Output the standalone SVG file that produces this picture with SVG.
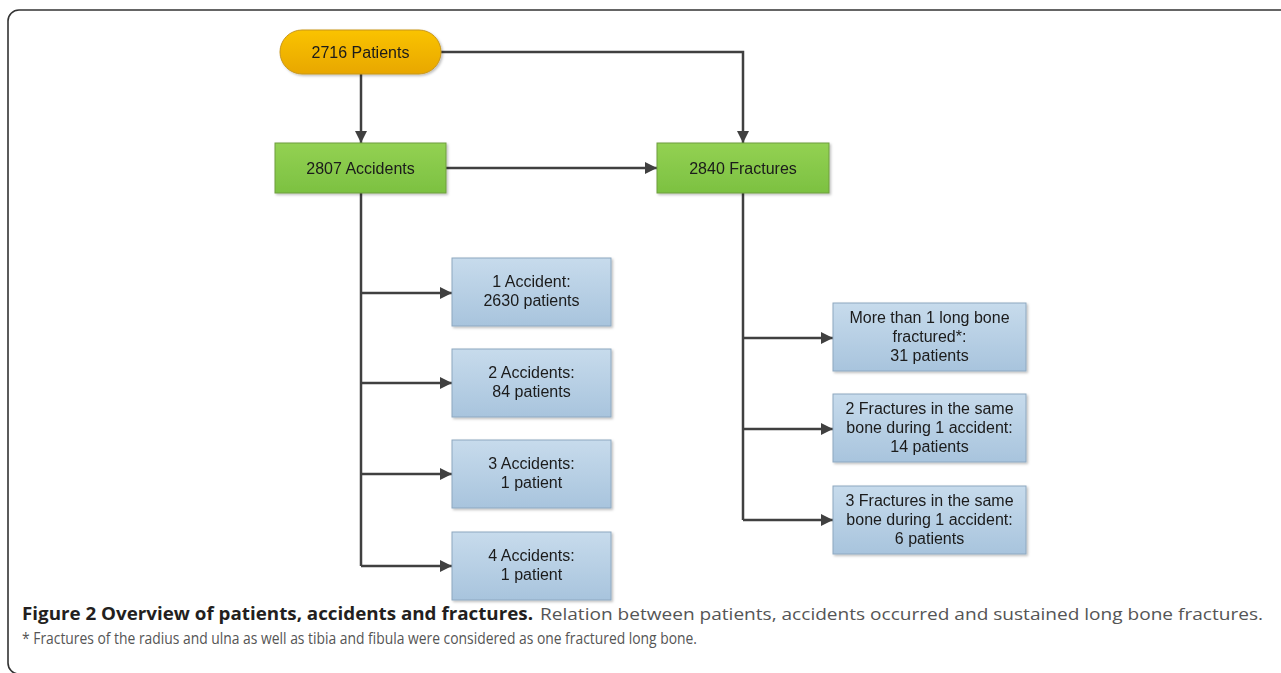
<svg xmlns="http://www.w3.org/2000/svg" width="1281" height="673" viewBox="0 0 1281 673">
<style>
.t{font-family:"Liberation Sans",Arial,sans-serif;font-size:16px;fill:#1a1a1a;text-anchor:middle}
.c{stroke:#404040;stroke-width:2.5;fill:none}
.blue{fill:url(#gb);stroke:#8ea8c0;stroke-width:1}
.green{fill:url(#gg);stroke:#6f9e3e;stroke-width:1}
.cap{font-family:"Open Sans","DejaVu Sans",sans-serif;font-size:17px}
</style>
<defs>
<linearGradient id="gy" x1="0" y1="0" x2="0" y2="1"><stop offset="0" stop-color="#fac300"/><stop offset="1" stop-color="#e8a700"/></linearGradient>
<linearGradient id="gg" x1="0" y1="0" x2="0" y2="1"><stop offset="0" stop-color="#93d153"/><stop offset="1" stop-color="#7cc141"/></linearGradient>
<linearGradient id="gb" x1="0" y1="0" x2="0" y2="1"><stop offset="0" stop-color="#c7dbec"/><stop offset="1" stop-color="#a8c4dd"/></linearGradient>
<marker id="ah" viewBox="0 0 10 10" refX="10" refY="5" markerWidth="5" markerHeight="5" orient="auto" markerUnits="strokeWidth"><path d="M0,0 L10,5 L0,10 z" fill="#404040"/></marker>
<filter id="sh" x="-10%" y="-10%" width="130%" height="140%"><feDropShadow dx="1.5" dy="1.5" stdDeviation="1" flood-color="#000" flood-opacity="0.25"/></filter>
</defs>
<rect width="1281" height="673" fill="#fff"/>
<rect x="8" y="10" width="1300" height="664" rx="11" fill="none" stroke="#333" stroke-width="1.6"/>

<g id="connectors">
<path class="c" d="M361,74 V143" marker-end="url(#ah)"/>
<path class="c" d="M441,52 H743 V143" marker-end="url(#ah)"/>
<path class="c" d="M446,168 H657" marker-end="url(#ah)"/>
<path class="c" d="M361,193 V566"/>
<path class="c" d="M361,293 H452" marker-end="url(#ah)"/>
<path class="c" d="M361,383 H452" marker-end="url(#ah)"/>
<path class="c" d="M361,474 H452" marker-end="url(#ah)"/>
<path class="c" d="M361,566 H452" marker-end="url(#ah)"/>
<path class="c" d="M743,193 V520"/>
<path class="c" d="M743,338 H833" marker-end="url(#ah)"/>
<path class="c" d="M743,429 H833" marker-end="url(#ah)"/>
<path class="c" d="M743,520 H833" marker-end="url(#ah)"/>
</g>

<g id="n-patients" filter="url(#sh)">
<rect x="280" y="30" width="161" height="44" rx="22" fill="url(#gy)" stroke="#c8961a" stroke-width="1"/>
<text class="t" x="360.5" y="58">2716 Patients</text>
</g>
<g id="n-accidents" filter="url(#sh)">
<rect class="green" x="275" y="143" width="171" height="50"/>
<text class="t" x="360.5" y="174">2807 Accidents</text>
</g>
<g id="n-fractures" filter="url(#sh)">
<rect class="green" x="657" y="143" width="172" height="50"/>
<text class="t" x="743" y="174">2840 Fractures</text>
</g>

<g id="n-acc1" filter="url(#sh)">
<rect class="blue" x="452" y="258" width="159" height="68"/>
<text class="t" x="531.5" y="287">1 Accident:</text>
<text class="t" x="531.5" y="306">2630 patients</text>
</g>
<g id="n-acc2" filter="url(#sh)">
<rect class="blue" x="452" y="349" width="159" height="68"/>
<text class="t" x="531.5" y="378">2 Accidents:</text>
<text class="t" x="531.5" y="397">84 patients</text>
</g>
<g id="n-acc3" filter="url(#sh)">
<rect class="blue" x="452" y="440" width="159" height="68"/>
<text class="t" x="531.5" y="469">3 Accidents:</text>
<text class="t" x="531.5" y="488">1 patient</text>
</g>
<g id="n-acc4" filter="url(#sh)">
<rect class="blue" x="452" y="532" width="159" height="68"/>
<text class="t" x="531.5" y="561">4 Accidents:</text>
<text class="t" x="531.5" y="580">1 patient</text>
</g>

<g id="n-fr1" filter="url(#sh)">
<rect class="blue" x="833" y="303" width="193" height="68"/>
<text class="t" x="929.5" y="323">More than 1 long bone</text>
<text class="t" x="929.5" y="342">fractured*:</text>
<text class="t" x="929.5" y="361">31 patients</text>
</g>
<g id="n-fr2" filter="url(#sh)">
<rect class="blue" x="833" y="394" width="193" height="68"/>
<text class="t" x="929.5" y="414">2 Fractures in the same</text>
<text class="t" x="929.5" y="433">bone during 1 accident:</text>
<text class="t" x="929.5" y="452">14 patients</text>
</g>
<g id="n-fr3" filter="url(#sh)">
<rect class="blue" x="833" y="486" width="193" height="68"/>
<text class="t" x="929.5" y="506">3 Fractures in the same</text>
<text class="t" x="929.5" y="525">bone during 1 accident:</text>
<text class="t" x="929.5" y="544">6 patients</text>
</g>

<g id="caption">
<text class="cap" x="22" y="620" font-weight="bold" fill="#231f20" textLength="511" lengthAdjust="spacingAndGlyphs">Figure 2 Overview of patients, accidents and fractures.</text>
<text class="cap" x="540" y="620" fill="#555" textLength="723" lengthAdjust="spacingAndGlyphs">Relation between patients, accidents occurred and sustained long bone fractures.</text>
<text class="cap" x="22" y="644" fill="#555" textLength="675" lengthAdjust="spacingAndGlyphs">* Fractures of the radius and ulna as well as tibia and fibula were considered as one fractured long bone.</text>
</g>
</svg>
